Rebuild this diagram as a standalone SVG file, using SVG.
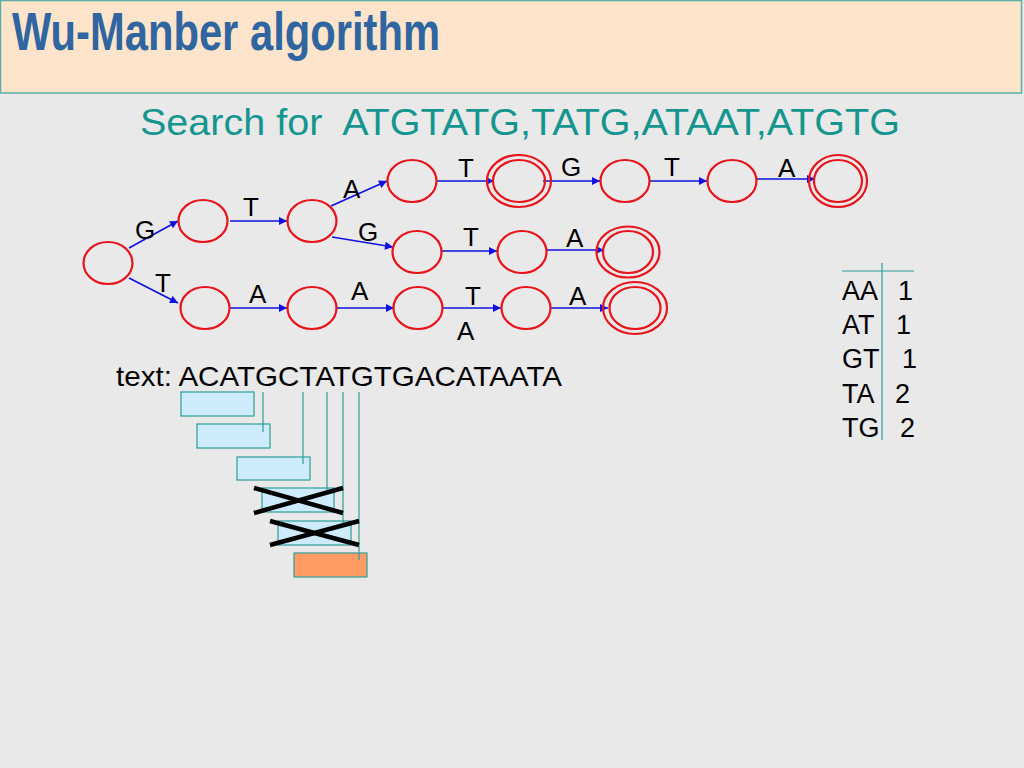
<svg xmlns="http://www.w3.org/2000/svg" width="1024" height="768" viewBox="0 0 1024 768">
<defs>
<style>
.node{fill:none;stroke:#E8141C;stroke-width:2.2}
.edge{stroke:#1010E0;stroke-width:1.6;fill:none}
.lbl{font-family:"Liberation Sans Narrow","Liberation Sans",Arial,sans-serif;font-size:26px;fill:#000}
.tbl{font-family:"Liberation Sans Narrow","Liberation Sans",Arial,sans-serif;font-size:27px;fill:#000}
.win{fill:#CDEBFA;stroke:#2E9E98;stroke-width:1.2}
.vline{stroke:#2E9E98;stroke-width:1.2}
.cross{stroke:#000;stroke-width:4.5;stroke-linecap:butt}
</style>
<marker id="arr" viewBox="0 0 10 10" refX="10" refY="5" markerWidth="9" markerHeight="8" markerUnits="userSpaceOnUse" orient="auto">
<path d="M0,0 L10,5 L0,10 Z" fill="#1010E0"/>
</marker>
</defs>
<rect width="1024" height="768" fill="#E9E9E9"/>
<g id="title">
<rect x="0.5" y="0.5" width="1021" height="92.5" fill="#FDE4CA" stroke="#5AAFA6" stroke-width="1.5"/>
<text x="12" y="50" font-family="'Liberation Sans Narrow','Liberation Sans',Arial,sans-serif" font-size="54" font-weight="bold" fill="#2F65A0" textLength="428" lengthAdjust="spacingAndGlyphs">Wu-Manber algorithm</text>
</g>
<g id="subtitle">
<text x="140" y="135" font-family="'Liberation Sans',Arial,sans-serif" font-size="37" fill="#14968F" xml:space="preserve" textLength="760" lengthAdjust="spacingAndGlyphs">Search for  ATGTATG,TATG,ATAAT,ATGTG</text>
</g>
<g id="connectors">
<line class="edge" x1="129" y1="248" x2="178" y2="221" marker-end="url(#arr)"/>
<line class="edge" x1="230" y1="221" x2="287" y2="221" marker-end="url(#arr)"/>
<line class="edge" x1="331" y1="206" x2="387" y2="181" marker-end="url(#arr)"/>
<line class="edge" x1="332" y1="237" x2="393" y2="247" marker-end="url(#arr)"/>
<line class="edge" x1="129" y1="278" x2="178" y2="303" marker-end="url(#arr)"/>
<line class="edge" x1="230" y1="308" x2="287" y2="308" marker-end="url(#arr)"/>
<line class="edge" x1="337" y1="308" x2="394" y2="308" marker-end="url(#arr)"/>
<line class="edge" x1="437" y1="181" x2="494" y2="181" marker-end="url(#arr)"/>
<line class="edge" x1="543" y1="181" x2="600" y2="181" marker-end="url(#arr)"/>
<line class="edge" x1="650" y1="181" x2="707" y2="181" marker-end="url(#arr)"/>
<line class="edge" x1="757" y1="179" x2="815" y2="179" marker-end="url(#arr)"/>
<line class="edge" x1="442" y1="251" x2="497" y2="251" marker-end="url(#arr)"/>
<line class="edge" x1="547" y1="250" x2="604" y2="250" marker-end="url(#arr)"/>
<line class="edge" x1="443" y1="308" x2="501" y2="308" marker-end="url(#arr)"/>
<line class="edge" x1="551" y1="308" x2="608" y2="308" marker-end="url(#arr)"/>
</g>
<g id="nodes">
<ellipse id="n0" class="node" cx="108" cy="263" rx="24.5" ry="21"/>
<ellipse id="nG" class="node" cx="203" cy="221" rx="24.5" ry="21"/>
<ellipse id="nGT" class="node" cx="312" cy="221" rx="24.5" ry="21"/>
<ellipse id="nGTA" class="node" cx="412" cy="181" rx="24.5" ry="21"/>
<g id="nGTAT"><ellipse class="node" cx="519" cy="181" rx="32" ry="26"/><ellipse class="node" cx="519" cy="181" rx="26" ry="21"/></g>
<ellipse id="nGTATG" class="node" cx="625" cy="181" rx="24.5" ry="21"/>
<ellipse id="nGTATGT" class="node" cx="732" cy="181" rx="24.5" ry="21"/>
<g id="nGTATGTA"><ellipse class="node" cx="838" cy="181" rx="29" ry="26"/><ellipse class="node" cx="838" cy="181" rx="24" ry="21"/></g>
<ellipse id="nGTG" class="node" cx="417" cy="252" rx="24.5" ry="21"/>
<ellipse id="nGTGT" class="node" cx="522" cy="252" rx="24.5" ry="21"/>
<g id="nGTGTA"><ellipse class="node" cx="628" cy="252" rx="31.5" ry="25.5"/><ellipse class="node" cx="628" cy="252" rx="25" ry="21"/></g>
<ellipse id="nT" class="node" cx="205" cy="308" rx="24.5" ry="21"/>
<ellipse id="nTA" class="node" cx="312" cy="308" rx="24.5" ry="21"/>
<ellipse id="nTAA" class="node" cx="418" cy="308" rx="24.5" ry="21"/>
<ellipse id="nTAAT" class="node" cx="526" cy="308" rx="24.5" ry="21"/>
<g id="nTAATA"><ellipse class="node" cx="635" cy="308" rx="32" ry="26"/><ellipse class="node" cx="635" cy="308" rx="25.5" ry="21"/></g>
</g>
<g id="edge-labels">
<text class="lbl" x="135" y="239">G</text>
<text class="lbl" x="243" y="216">T</text>
<text class="lbl" x="343" y="198">A</text>
<text class="lbl" x="358" y="241">G</text>
<text class="lbl" x="155" y="292">T</text>
<text class="lbl" x="249" y="303">A</text>
<text class="lbl" x="351" y="300">A</text>
<text class="lbl" x="458" y="177">T</text>
<text class="lbl" x="561" y="176">G</text>
<text class="lbl" x="664" y="176">T</text>
<text class="lbl" x="778" y="177">A</text>
<text class="lbl" x="463" y="246">T</text>
<text class="lbl" x="566" y="247">A</text>
<text class="lbl" x="465" y="305">T</text>
<text class="lbl" x="569" y="305">A</text>
<text class="lbl" x="457" y="340">A</text>
</g>
<g id="table">
<line class="vline" x1="842" y1="271" x2="914" y2="271"/>
<line class="vline" x1="882" y1="263" x2="882" y2="440"/>
<text class="tbl" x="842" y="300">AA</text><text class="tbl" x="898" y="300">1</text>
<text class="tbl" x="842" y="334">AT</text><text class="tbl" x="896" y="334">1</text>
<text class="tbl" x="842" y="368">GT</text><text class="tbl" x="902" y="368">1</text>
<text class="tbl" x="842" y="403">TA</text><text class="tbl" x="895" y="403">2</text>
<text class="tbl" x="842" y="437">TG</text><text class="tbl" x="900" y="437">2</text>
</g>
<g id="text-line">
<text x="116" y="386" font-family="'Liberation Sans',Arial,sans-serif" font-size="28" fill="#000" textLength="446" lengthAdjust="spacingAndGlyphs">text: ACATGCTATGTGACATAATA</text>
</g>
<g id="windows">
<rect class="win" x="181" y="392" width="73" height="24"/>
<rect class="win" x="197" y="424" width="73" height="24"/>
<rect class="win" x="237" y="457" width="73" height="23"/>
<rect class="win" x="262" y="488" width="72" height="24"/>
<rect class="win" x="278" y="521" width="73" height="24"/>
<rect x="294" y="553" width="73" height="24" fill="#FF9B63" stroke="#2E9E98" stroke-width="1.2"/>
<line class="vline" x1="263" y1="392" x2="263" y2="432"/>
<line class="vline" x1="303" y1="392" x2="303" y2="464"/>
<line class="vline" x1="327" y1="392" x2="327" y2="492"/>
<line class="vline" x1="343" y1="392" x2="343" y2="523"/>
<line class="vline" x1="359" y1="392" x2="359" y2="560"/>
<line class="cross" x1="254" y1="488" x2="343" y2="513"/>
<line class="cross" x1="254" y1="513" x2="343" y2="488"/>
<line class="cross" x1="270" y1="521" x2="359" y2="545"/>
<line class="cross" x1="270" y1="545" x2="359" y2="521"/>
</g>
</svg>
